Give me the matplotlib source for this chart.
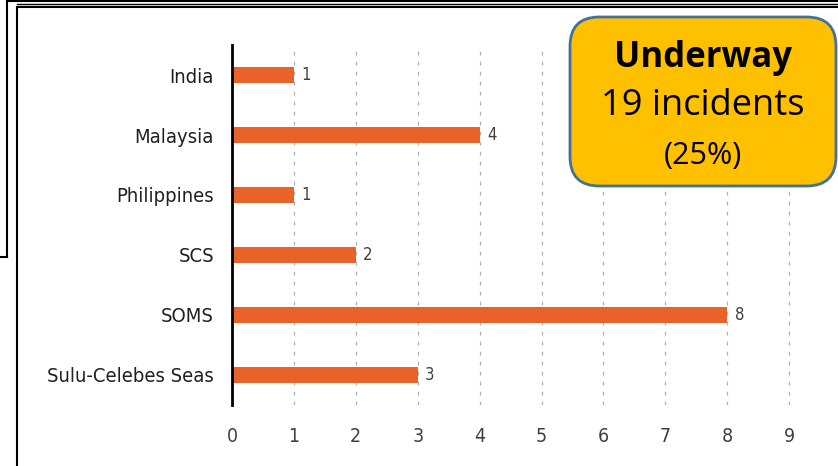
import matplotlib
matplotlib.use('Agg')
import matplotlib.pyplot as plt
from matplotlib import font_manager
from matplotlib.lines import Line2D
from matplotlib.patches import FancyBboxPatch, Rectangle

# data
regions = ['India', 'Malaysia', 'Philippines', 'SCS', 'SOMS', 'Sulu-Celebes Seas']
incidents = [1, 4, 1, 2, 8, 3]
x_ticks = [0, 1, 2, 3, 4, 5, 6, 7, 8, 9]
box_title = 'Underway'
box_count = '19 incidents'
box_share = '(25%)'

W, H = 838, 466

# condensed face for the chart labels
narrow = font_manager.FontProperties(family='DejaVu Sans', stretch='condensed')

fig = plt.figure(figsize=(W / 100, H / 100), dpi=100)

def fx(px):
    return px / W

def fy(py):
    return 1 - py / H

# frame lines of the slide
fig.add_artist(Line2D([fx(7), fx(W)], [fy(1), fy(1)], color='black', lw=1.5))
fig.add_artist(Line2D([fx(17), fx(W)], [fy(4), fy(4)], color='black', lw=1.0))
fig.add_artist(Line2D([fx(7), fx(7)], [fy(0), fy(257)], color='black', lw=1.5))
fig.add_artist(Line2D([fx(0), fx(7)], [fy(257), fy(257)], color='black', lw=1.5))
fig.add_artist(Rectangle((fx(17), fy(H + 5)), fx(W + 10 - 17), fy(7) - fy(H + 5),
                         fill=False, edgecolor='black', lw=1.5))

ax = fig.add_axes([fx(232), fy(405), fx(9.5 * 61.9), (405 - 45) / H])
ypos = list(range(len(regions)))
ax.barh(ypos, incidents, height=0.28, color='#E8622A', zorder=3)
for y, v in zip(ypos, incidents):
    ax.text(v + 0.12, y, str(v), va='center', ha='left', fontsize=12,
            color='#404040', fontproperties=narrow)

ax.set_xlim(0, 9.5)
ax.set_ylim(len(regions) - 0.5, -0.5)
ax.set_yticks(ypos)
ax.set_yticklabels(regions, fontproperties=narrow, color='#202020')
ax.set_xticks(x_ticks)
ax.set_xticklabels([str(t) for t in x_ticks], fontproperties=narrow, color='#404040')
for lab in ax.get_yticklabels():
    lab.set_fontsize(14.5)
for lab in ax.get_xticklabels():
    lab.set_fontsize(14)
for lab in ax.texts:
    lab.set_fontsize(12)
ax.tick_params(length=0)
ax.tick_params(axis='y', pad=13)
ax.tick_params(axis='x', pad=16)
for s in ['top', 'right', 'bottom']:
    ax.spines[s].set_visible(False)
ax.spines['left'].set_linewidth(2)
ax.spines['left'].set_color('black')
ax.spines['left'].set_zorder(4)
for t in x_ticks[1:]:
    ax.axvline(t, color='#b0b0b0', lw=0.9, ls=(0, (3, 5)), zorder=1)

# callout box
box = FancyBboxPatch((fx(570), fy(186)), fx(836 - 570), fy(17) - fy(186),
                     boxstyle='round,pad=0,rounding_size=0.035',
                     transform=fig.transFigure, facecolor='#FFC000',
                     edgecolor='#41719C', lw=2, mutation_aspect=W / H)
fig.add_artist(box)
fig.text(fx(703), fy(58), box_title, ha='center', va='center', fontsize=25,
         fontweight='bold', family='Open Sans', color='black')
fig.text(fx(703), fy(106), box_count, ha='center', va='center', fontsize=26,
         family='Open Sans', color='black')
fig.text(fx(703), fy(156), box_share, ha='center', va='center', fontsize=22,
         family='Open Sans', color='black')

fig.savefig('out.png', dpi=100)
